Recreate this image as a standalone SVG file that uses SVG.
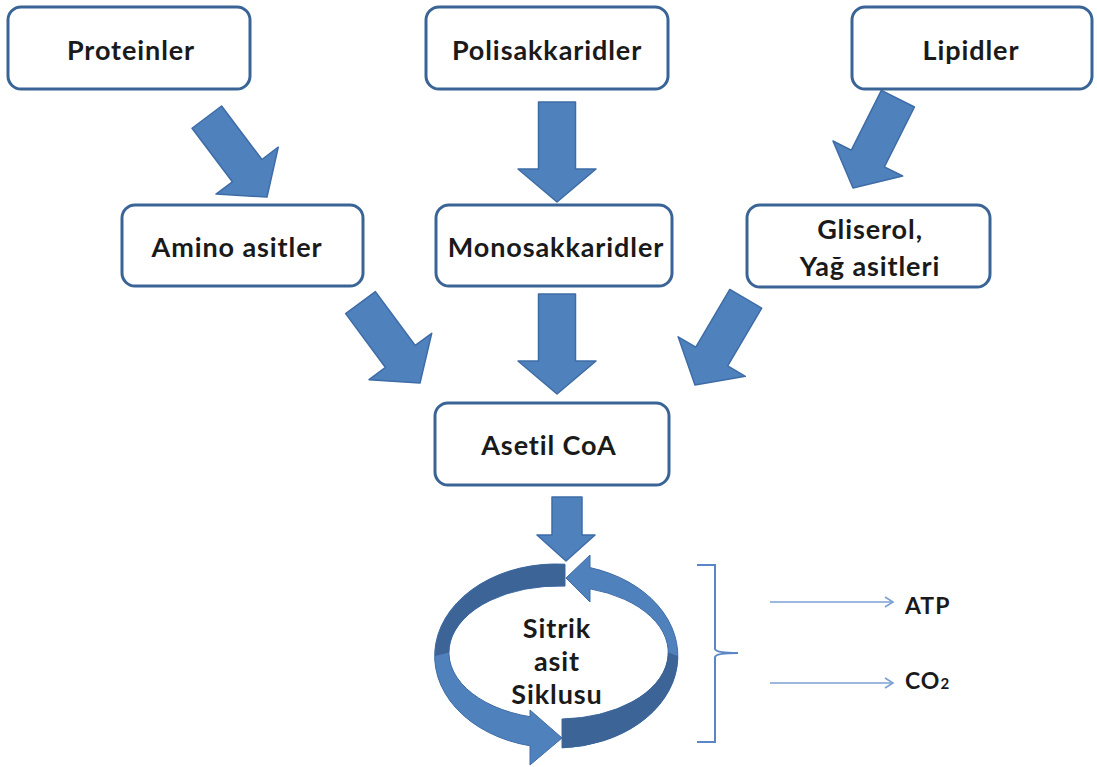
<svg xmlns="http://www.w3.org/2000/svg" width="1097" height="767" viewBox="0 0 1097 767">
<style>
.box{fill:#ffffff;stroke:#3B6496;stroke-width:3}
.lbl{font-family:Lato,"Open Sans","Liberation Sans",sans-serif;font-size:27px;font-weight:bold;letter-spacing:0.9px;fill:#1a1a1a;text-anchor:middle}
.small{font-family:Lato,"Open Sans","Liberation Sans",sans-serif;font-size:23px;font-weight:bold;letter-spacing:1px;fill:#1a1a1a}
.blk{fill:#4F81BD;stroke:#3E6CA6;stroke-width:1.5;stroke-linejoin:round}
.ring{fill:#4F81BD;stroke:#3E6CA6;stroke-width:1}
.ringdark{fill:#3C6497}
.thin{fill:none;stroke:#7BA0D4;stroke-width:1.6}
</style>
<defs>
<path id="barrow" d="M-18.5,-100 L18.5,-100 L18.5,-33 L39,-33 L0,0 L-39,-33 L-18.5,-33 Z"/>
<marker id="chev" markerWidth="12" markerHeight="12" refX="10" refY="6" orient="auto" markerUnits="userSpaceOnUse">
<path d="M2,1 L10,6 L2,11" fill="none" stroke="#7BA0D4" stroke-width="1.6"/>
</marker>
</defs>
<rect width="1097" height="767" fill="#ffffff"/>

<g id="connectors">
<use href="#barrow" class="blk" transform="translate(267,197) rotate(-37)"/>
<use href="#barrow" class="blk" transform="translate(557,202)"/>
<use href="#barrow" class="blk" transform="translate(853,188) rotate(26.7)"/>
<use href="#barrow" class="blk" transform="translate(420,383) rotate(-36.5)"/>
<use href="#barrow" class="blk" transform="translate(557,394)"/>
<use href="#barrow" class="blk" transform="translate(695,385) rotate(30.5)"/>
<path class="blk" d="M552,497 L582,497 L582,535 L595,535 L566,561 L537,535 L552,535 Z"/>
<line class="thin" x1="770" y1="602" x2="893" y2="602" marker-end="url(#chev)"/>
<line class="thin" x1="770" y1="683" x2="893" y2="683" marker-end="url(#chev)"/>
<path d="M697,565 L715,565 L715,649 Q716,653 738,653 Q716,653 715,657 L715,742 L697,742" fill="none" stroke="#5B86C5" stroke-width="2"/>
</g>

<g id="proteinler"><rect class="box" x="8" y="7" width="242" height="82" rx="13"/><text class="lbl" x="131" y="60">Proteinler</text></g>
<g id="polisakkaridler"><rect class="box" x="426" y="7" width="242" height="82" rx="13"/><text class="lbl" x="547" y="60">Polisakkaridler</text></g>
<g id="lipidler"><rect class="box" x="852" y="7" width="240" height="82" rx="13"/><text class="lbl" x="971" y="60">Lipidler</text></g>
<g id="amino"><rect class="box" x="122" y="205" width="241" height="81" rx="13"/><text class="lbl" x="237" y="257">Amino asitler</text></g>
<g id="monosakkaridler"><rect class="box" x="436" y="205" width="236" height="81" rx="13"/><text class="lbl" x="556" y="257">Monosakkaridler</text></g>
<g id="gliserol"><rect class="box" x="747" y="205" width="243" height="82" rx="13"/><text class="lbl" x="870" y="239">Gliserol,</text><text class="lbl" x="870" y="276">Yağ asitleri</text></g>
<g id="asetil"><rect class="box" x="435" y="403" width="234" height="82" rx="13"/><text class="lbl" x="549" y="455">Asetil CoA</text></g>

<g id="cycle">
<path class="ring" d="M565,564.2 A121.5,92 0 0 0 530,745.8 L530,765 L562,738 L530,710 L530,716.7 A109.5,66.5 0 0 1 565,586.1 Z"/>
<path class="ringdark" d="M565,564.2 A121.5,92 0 0 0 435,656 L449,652.5 A109.5,66.5 0 0 1 565,586.1 Z"/>
<path class="ring" d="M562,747.9 A121.5,92 0 0 0 590,567.6 L590,555 L566,578 L590,602 L590,588.8 A109.5,66.5 0 0 1 562,719 Z"/>
<path class="ringdark" d="M562,747.9 A121.5,92 0 0 0 678,656 L668,652.5 A109.5,66.5 0 0 1 562,719 Z"/>
<text class="lbl" x="557" y="638">Sitrik</text>
<text class="lbl" x="557" y="671">asit</text>
<text class="lbl" x="557" y="704">Siklusu</text>
</g>

<g id="atp"><text class="small" x="905" y="614">ATP</text></g>
<g id="co2"><text class="small" x="905" y="689">CO<tspan font-size="15">2</tspan></text></g>
</svg>
